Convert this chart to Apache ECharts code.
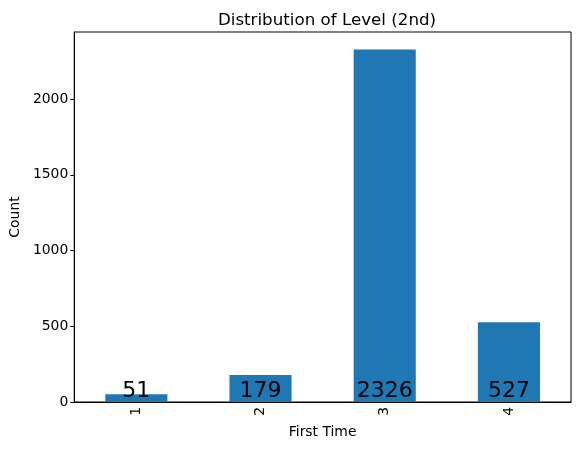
<!DOCTYPE html>
<html>
<head>
<meta charset="utf-8">
<script src="https://cdn.jsdelivr.net/npm/echarts@6/dist/echarts.min.js"></script>
<style>html,body{margin:0;padding:0;background:#fff;}#c{width:580px;height:450px;}</style>
</head>
<body>
<div id="c"></div>
<script>
const categories = ['1', '2', '3', '4'];
const counts = [51, 179, 2326, 527];
const yTicks = [0, 500, 1000, 1500, 2000];

const chart = echarts.init(document.getElementById('c'), null, {renderer: 'canvas'});
const font = 'DejaVu Sans';
chart.setOption({
  animation: false,
  backgroundColor: '#fff',
  textStyle: {fontFamily: font},
  title: {
    text: 'Distribution of Level (2nd)',
    left: 322,
    textAlign: 'center',
    top: 7,
    textStyle: {fontFamily: font, fontSize: 16.7, fontWeight: 'normal', color: '#000'}
  },
  grid: {
    left: 74, right: 9, top: 32, bottom: 48,
    show: true, borderColor: '#000', borderWidth: 1, containLabel: false
  },
  xAxis: {
    type: 'category',
    data: categories,
    name: 'First Time',
    nameLocation: 'middle',
    nameGap: 23,
    nameTextStyle: {fontFamily: font, fontSize: 13.9, color: '#000'},
    axisLine: {lineStyle: {color: '#000', width: 1}},
    axisTick: {alignWithLabel: true, length: 4, lineStyle: {color: '#000'}},
    axisLabel: {rotate: 90, fontFamily: font, fontSize: 13.9, color: '#000', margin: 5}
  },
  yAxis: {
    type: 'value',
    min: 0,
    max: Math.max(...counts) * 1.05,
    interval: 500,
    name: 'Count',
    nameLocation: 'middle',
    nameGap: 52,
    nameTextStyle: {fontFamily: font, fontSize: 13.9, color: '#000'},
    axisLine: {show: true, lineStyle: {color: '#000', width: 1}},
    axisTick: {show: true, length: 4, lineStyle: {color: '#000'}},
    axisLabel: {
      fontFamily: font, fontSize: 13.9, color: '#000', margin: 6,
      showMaxLabel: false,
      formatter: v => yTicks.includes(v) ? String(v) : ''
    },
    splitLine: {show: false}
  },
  series: [{
    type: 'bar',
    data: counts,
    barWidth: '50%',
    itemStyle: {color: '#1f77b4'},
    label: {
      show: true,
      position: 'insideBottom',
      distance: 0,
      fontFamily: font,
      fontSize: 22,
      lineHeight: 22,
      color: '#000'
    }
  }]
});
</script>
</body>
</html>
